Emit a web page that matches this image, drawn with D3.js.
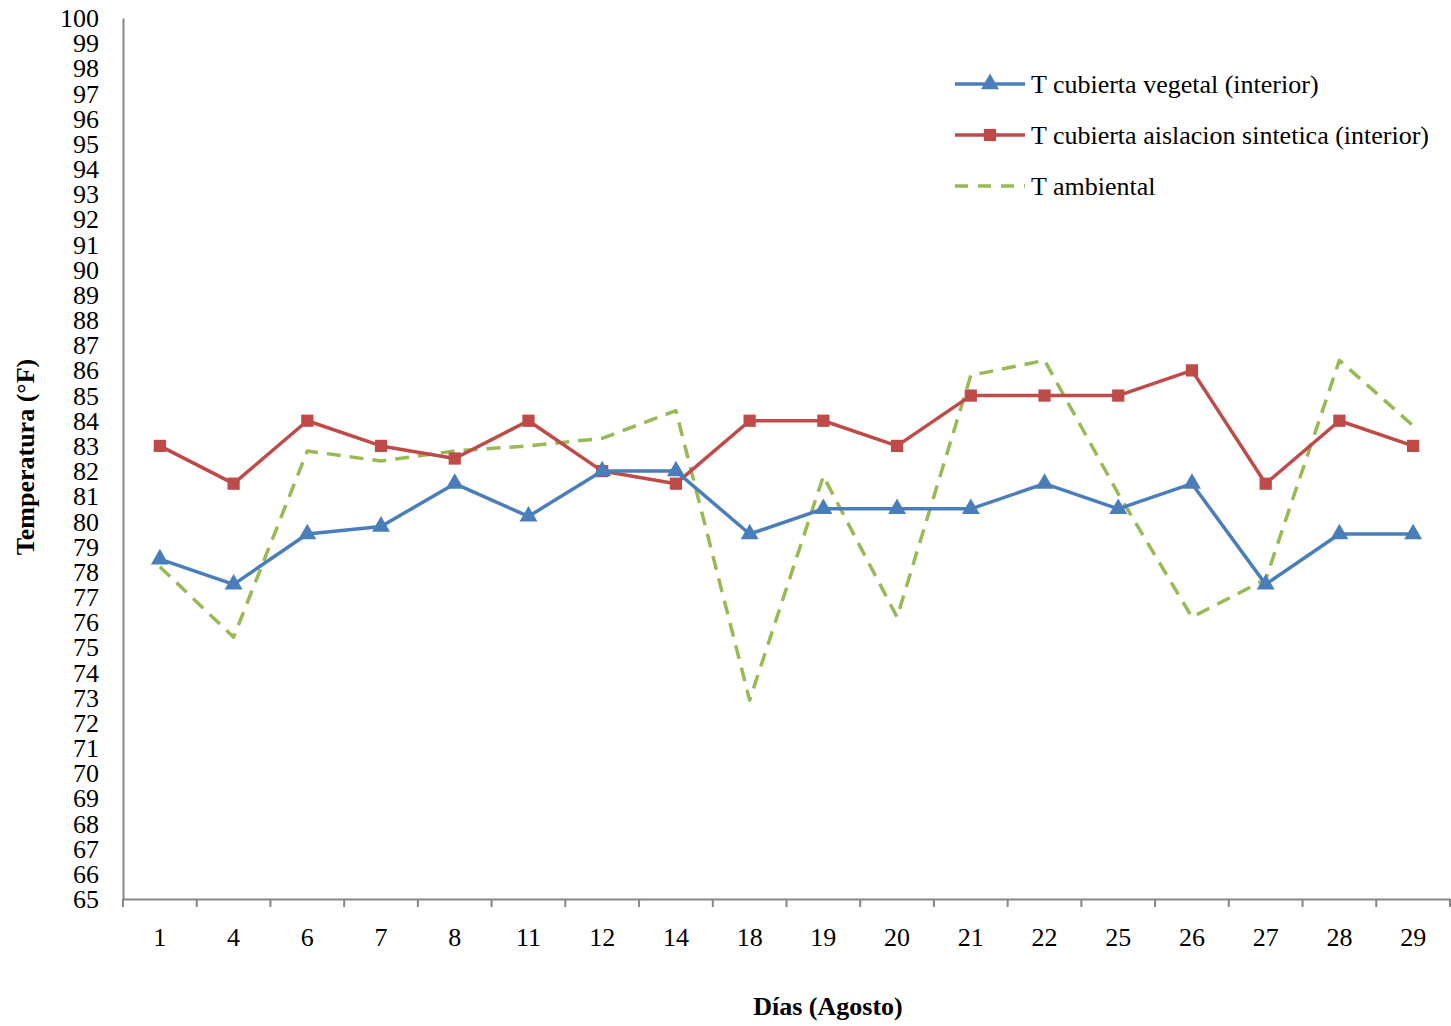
<!DOCTYPE html>
<html>
<head>
<meta charset="utf-8">
<script src="https://cdn.jsdelivr.net/npm/d3@7"></script>
<style>
  body { margin: 0; background: #fff; }
  text { font-family: "Liberation Serif", "Times New Roman", serif; fill: #000; }
</style>
</head>
<body>
<div id="chart"></div>
<script>
var dias = ["1", "4", "6", "7", "8", "11", "12", "14", "18", "19", "20", "21", "22", "25", "26", "27", "28", "29"];
var vegetal = [78.5, 77.5, 79.5, 79.8, 81.5, 80.2, 82, 82, 79.5, 80.5, 80.5, 80.5, 81.5, 80.5, 81.5, 77.5, 79.5, 79.5];
var sintetica = [83, 81.5, 84, 83, 82.5, 84, 82, 81.5, 84, 84, 83, 85, 85, 85, 86, 81.5, 84, 83];
var ambiental = [78.2, 75.4, 82.8, 82.4, 82.8, 83.0, 83.3, 84.4, 72.9, 81.8, 76.2, 85.8, 86.4, 81.1, 76.2, 77.7, 86.4, 83.8];
var yTicks = d3.range(65, 101, 1);

var series = [
  {name: "T cubierta vegetal (interior)", values: vegetal, color: "#4A7EBB", marker: "triangle", dash: null},
  {name: "T cubierta aislacion sintetica (interior)", values: sintetica, color: "#BE4B48", marker: "square", dash: null},
  {name: "T ambiental", values: ambiental, color: "#98B954", marker: null, dash: "14,9"}
];

var width = 1451, height = 1026;
var margin = {top: 18, right: 1, bottom: 127, left: 123};
var w = width - margin.left - margin.right;
var h = height - margin.top - margin.bottom;
var fs = "26px";

var svg = d3.select("#chart").append("svg")
  .attr("width", width)
  .attr("height", height);

var g = svg.append("g")
  .attr("transform", "translate(" + margin.left + "," + margin.top + ")");

var x = d3.scaleBand().domain(dias).range([0, w]);
var y = d3.scaleLinear().domain([65, 100]).range([h, 0]);

// y axis
var yAxis = g.append("g").attr("class", "y-axis")
  .call(d3.axisLeft(y).tickValues(yTicks).tickSize(0).tickPadding(24).tickFormat(d3.format("d")));
yAxis.select(".domain").attr("stroke", "#868686").attr("stroke-width", 2);
yAxis.selectAll("text").style("font-size", fs).attr("dy", "0.33em");

// x axis with ticks at category boundaries
var xAxis = g.append("g").attr("class", "x-axis")
  .attr("transform", "translate(0," + h + ")")
  .call(d3.axisBottom(x).tickSize(0).tickPadding(29));
xAxis.select(".domain").attr("stroke", "#868686").attr("stroke-width", 2);
xAxis.selectAll("text").style("font-size", fs);
xAxis.selectAll(".bound")
  .data(dias.map(function(d) { return x(d); }).concat([w]))
  .enter().append("line")
  .attr("class", "bound")
  .attr("x1", function(d) { return d; })
  .attr("x2", function(d) { return d; })
  .attr("y1", 0).attr("y2", 8)
  .attr("stroke", "#868686").attr("stroke-width", 2);

var cx = function(d, i) { return x(dias[i]) + x.bandwidth() / 2; };
var line = d3.line().x(cx).y(function(d) { return y(d); });

var tri = d3.symbol().type(d3.symbolTriangle).size(140);
var sq = d3.symbol().type(d3.symbolSquare).size(150);

// draw ambiental first, then the others
[2, 1, 0].forEach(function(k) {
  var s = series[k];
  g.append("path")
    .datum(s.values)
    .attr("fill", "none")
    .attr("stroke", s.color)
    .attr("stroke-width", 3.5)
    .attr("stroke-linejoin", "round")
    .attr("stroke-dasharray", s.dash)
    .attr("d", line);
  if (s.marker) {
    g.selectAll(".m" + k)
      .data(s.values)
      .enter().append("path")
      .attr("class", "m" + k)
      .attr("transform", function(d, i) { return "translate(" + cx(d, i) + "," + y(d) + ")"; })
      .attr("d", s.marker == "triangle" ? tri : sq)
      .attr("fill", s.color);
  }
});

// legend
var legend = svg.append("g").attr("transform", "translate(955,84)");
series.forEach(function(s, i) {
  var row = legend.append("g").attr("transform", "translate(0," + (i * 51) + ")");
  row.append("line")
    .attr("x1", 0).attr("x2", 70)
    .attr("stroke", s.color).attr("stroke-width", 3.5)
    .attr("stroke-dasharray", s.dash ? "13,10" : null);
  if (s.marker) {
    row.append("path")
      .attr("transform", "translate(35,0)")
      .attr("d", s.marker == "triangle" ? tri : sq)
      .attr("fill", s.color);
  }
  row.append("text")
    .attr("x", 76).attr("dy", "0.35em")
    .style("font-size", fs)
    .text(s.name);
});

// axis titles
svg.append("text")
  .attr("x", 828).attr("y", 1015)
  .attr("text-anchor", "middle")
  .style("font-size", fs).style("font-weight", "bold")
  .text("Días (Agosto)");

svg.append("text")
  .attr("transform", "translate(34," + 457 + ") rotate(-90)")
  .attr("text-anchor", "middle")
  .style("font-size", fs).style("font-weight", "bold")
  .text("Temperatura (°F)");
</script>
</body>
</html>
